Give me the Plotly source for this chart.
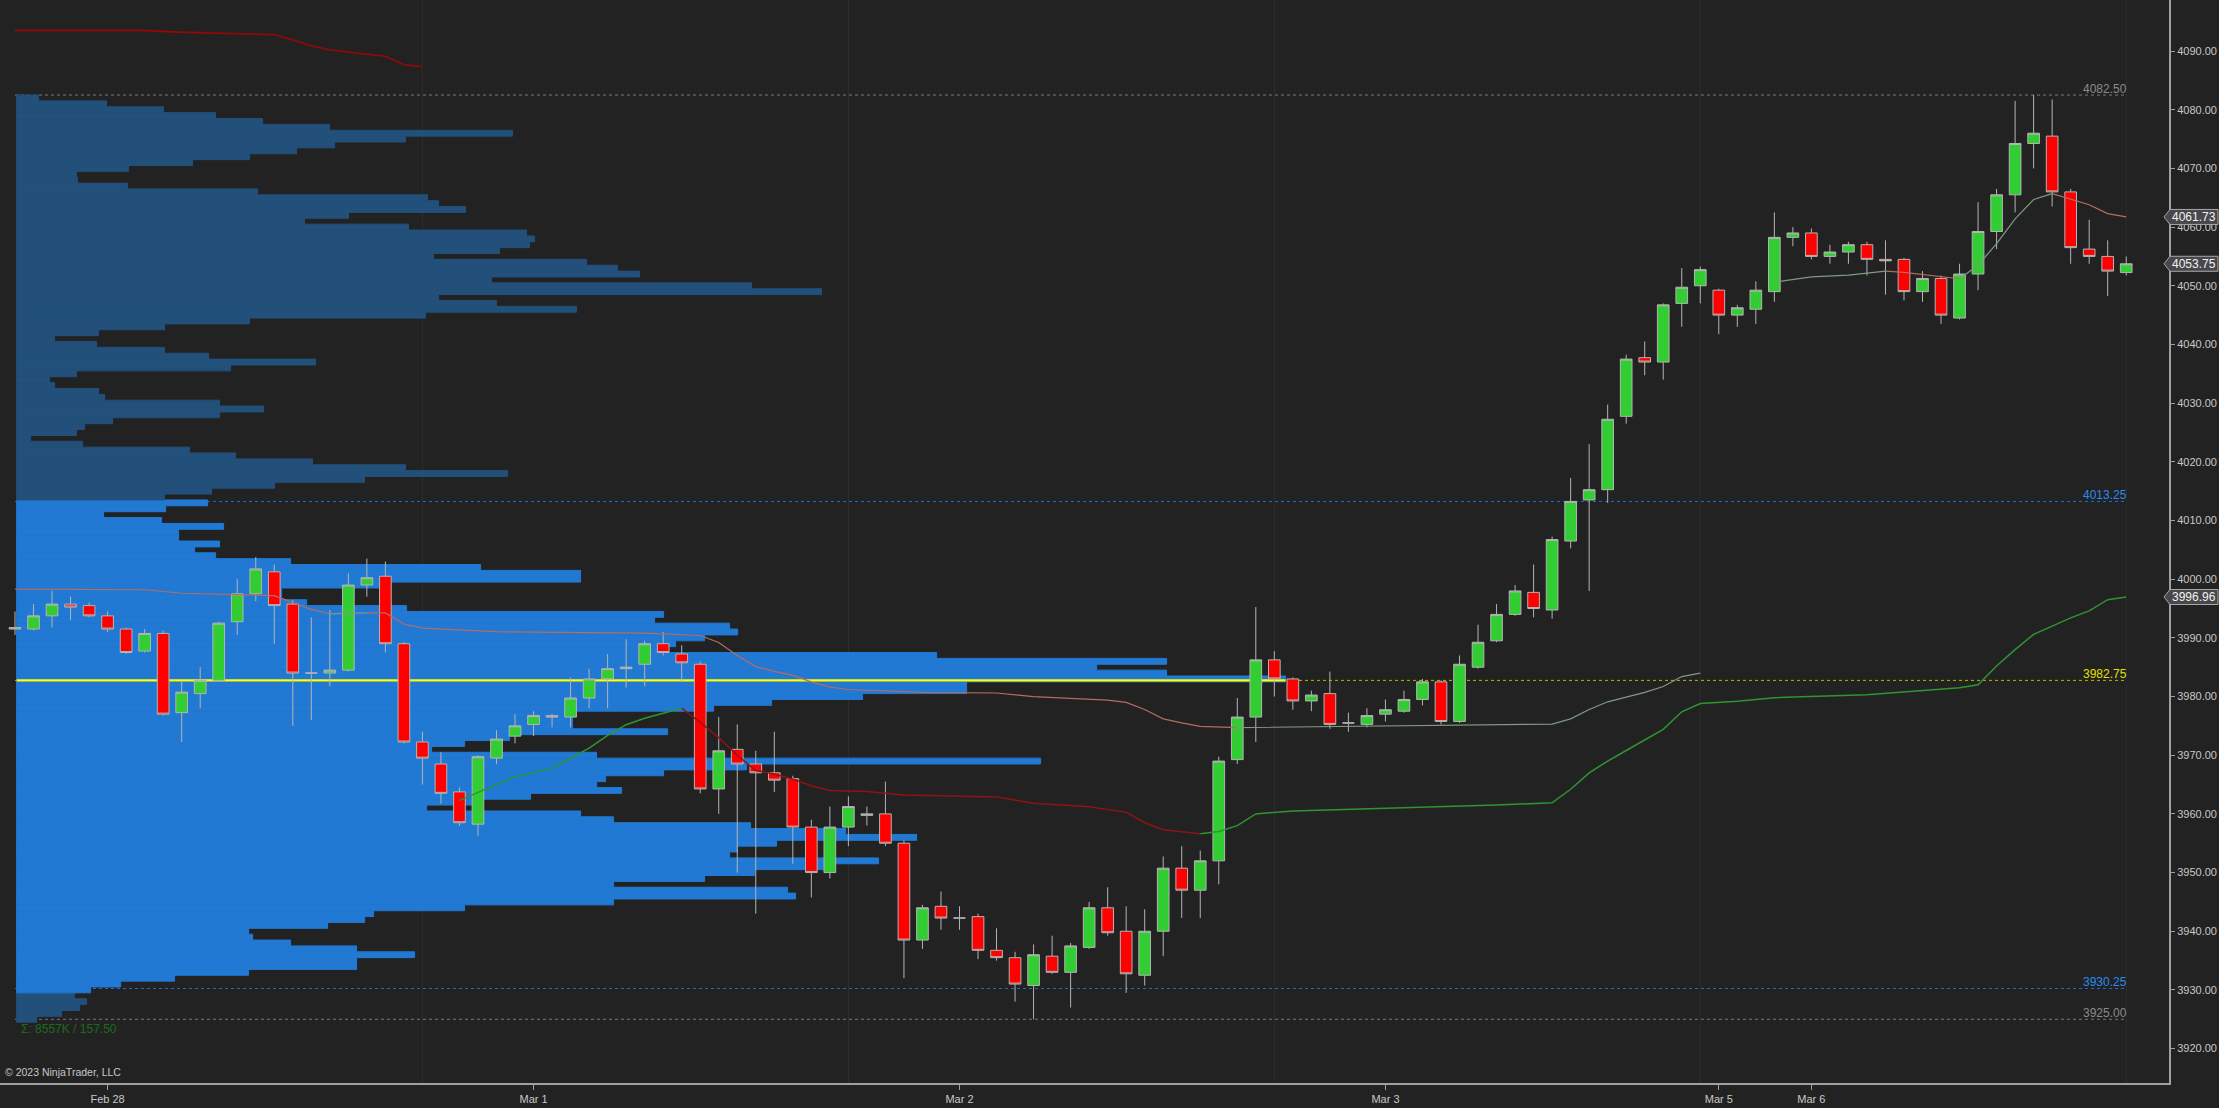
import plotly.graph_objects as go

# ---------------- candles (hourly bars, index 0 = first bar on chart) ----------------
opens = [3991.5, 3991.5, 3993.75, 3995.75, 3995.5, 3993.75, 3991.5, 3987.75, 3990.75, 3977.25,
         3980.5, 3982.75, 3992.75, 3997.5, 4001.25, 3995.75, 3984.0, 3984.0, 3984.5, 3999.0,
         4000.5, 3989.0, 3972.25, 3968.5, 3963.75, 3958.25, 3969.5, 3973.25, 3975.25, 3976.75,
         3976.5, 3979.75, 3983.0, 3984.75, 3985.5, 3989.0, 3987.25, 3985.5, 3964.25, 3971.0,
         3968.5, 3967.0, 3966.0, 3957.75, 3950.0, 3957.75, 3959.75, 3960.0, 3955.0, 3938.5,
         3944.25, 3942.25, 3942.5, 3936.75, 3935.5, 3930.75, 3935.75, 3933.0, 3937.25, 3944.0,
         3940.0, 3932.5, 3940.0, 3950.75, 3947.0, 3952.0, 3969.25, 3976.5, 3986.25, 3983.0,
         3979.25, 3980.5, 3975.5, 3975.25, 3977.0, 3977.5, 3979.5, 3982.5, 3975.75, 3985.0,
         3989.5, 3994.0, 3997.75, 3994.75, 4006.5, 4013.5, 4015.25, 4027.75, 4037.75, 4037.0,
         4047.0, 4050.0, 4049.25, 4045.0, 4046.0, 4049.0, 4058.25, 4059.0, 4055.0, 4055.75,
         4057.0, 4054.5, 4054.5, 4049.0, 4051.25, 4044.5, 4052.0, 4059.25, 4065.5, 4074.25,
         4075.5, 4066.0, 4056.25, 4055.0, 4052.25]
highs = [3994.5, 3995.75, 3998.0, 3997.0, 3996.0, 3994.5, 3991.75, 3991.5, 3991.25, 3982.5,
         3985.0, 3992.75, 4000.0, 4003.75, 4002.5, 3996.5, 3993.5, 3994.75, 4001.0, 4003.5,
         4003.0, 3989.25, 3974.0, 3970.5, 3964.5, 3970.0, 3974.25, 3977.0, 3977.5, 3977.0,
         3983.25, 3984.75, 3987.25, 3989.75, 3989.5, 3991.0, 3988.75, 3986.0, 3976.5, 3975.25,
         3970.75, 3974.0, 3966.5, 3959.0, 3961.25, 3963.0, 3961.25, 3965.5, 3955.5, 3944.5,
         3946.75, 3944.25, 3943.0, 3940.5, 3936.5, 3937.75, 3939.25, 3938.0, 3945.0, 3947.5,
         3944.25, 3943.75, 3952.75, 3954.5, 3953.75, 3969.75, 3979.75, 3995.25, 3987.75, 3983.25,
         3981.0, 3984.25, 3977.25, 3978.0, 3979.5, 3981.0, 3983.0, 3982.75, 3987.0, 3992.25,
         3995.75, 3999.0, 4002.5, 4007.25, 4017.25, 4023.0, 4029.75, 4038.25, 4040.5, 4047.0,
         4053.0, 4053.25, 4049.5, 4046.75, 4050.75, 4062.5, 4060.0, 4059.75, 4057.0, 4057.5,
         4057.5, 4057.75, 4054.75, 4052.5, 4051.75, 4053.75, 4064.25, 4066.5, 4081.5, 4082.5,
         4081.75, 4066.5, 4061.25, 4057.75, 4055.0]
lows = [3990.5, 3991.25, 3991.75, 3993.0, 3993.5, 3991.0, 3987.25, 3987.5, 3976.75, 3972.25,
        3978.0, 3982.5, 3990.5, 3996.25, 3989.0, 3975.0, 3976.0, 3981.75, 3984.25, 3997.0,
        3987.5, 3972.0, 3965.0, 3961.75, 3958.0, 3956.25, 3968.5, 3972.0, 3973.25, 3974.75,
        3974.75, 3978.0, 3978.0, 3981.5, 3981.75, 3987.0, 3982.5, 3963.5, 3960.0, 3950.0,
        3943.0, 3963.75, 3951.5, 3945.75, 3949.0, 3954.5, 3958.0, 3954.5, 3932.0, 3937.0,
        3940.25, 3940.25, 3935.25, 3935.0, 3928.0, 3925.0, 3932.75, 3927.0, 3937.0, 3939.25,
        3929.5, 3930.75, 3935.75, 3942.25, 3942.25, 3948.0, 3968.5, 3972.25, 3980.0, 3977.75,
        3977.5, 3974.5, 3974.0, 3974.75, 3975.75, 3977.25, 3978.5, 3975.25, 3975.5, 3984.75,
        3989.25, 3993.75, 3993.5, 3993.25, 4005.25, 3998.0, 4013.0, 4026.5, 4034.75, 4034.0,
        4043.0, 4047.0, 4041.75, 4043.0, 4043.5, 4047.25, 4056.75, 4054.5, 4053.75, 4053.75,
        4051.75, 4048.5, 4047.5, 4047.25, 4043.5, 4044.25, 4049.25, 4056.25, 4062.5, 4070.0,
        4063.5, 4053.75, 4053.75, 4048.25, 4051.75]
closes = [3991.75, 3993.75, 3995.75, 3995.25, 3993.75, 3991.5, 3987.5, 3990.75, 3977.0, 3980.75,
          3982.75, 3992.5, 3997.5, 4001.75, 3995.5, 3984.0, 3984.0, 3984.5, 3999.0, 4000.25,
          3989.0, 3972.25, 3969.5, 3963.5, 3958.5, 3969.75, 3972.75, 3975.0, 3976.75, 3976.5,
          3979.75, 3983.0, 3984.75, 3985.0, 3989.0, 3987.5, 3985.75, 3964.25, 3970.75, 3968.5,
          3967.0, 3965.75, 3957.75, 3950.0, 3957.75, 3961.25, 3960.0, 3955.0, 3938.5, 3944.0,
          3942.25, 3942.25, 3936.75, 3935.5, 3931.0, 3936.0, 3933.0, 3937.5, 3944.0, 3939.75,
          3932.75, 3940.0, 3950.75, 3947.0, 3952.0, 3969.0, 3976.5, 3986.25, 3983.0, 3979.25,
          3980.25, 3975.25, 3975.5, 3976.75, 3977.75, 3979.5, 3982.5, 3975.75, 3985.5, 3989.25,
          3994.0, 3998.0, 3995.0, 4006.75, 4013.25, 4015.25, 4027.25, 4037.5, 4037.0, 4046.75,
          4049.75, 4052.75, 4045.0, 4046.25, 4049.25, 4058.25, 4059.0, 4055.0, 4055.75, 4057.0,
          4054.5, 4054.25, 4049.0, 4051.25, 4045.0, 4052.0, 4059.25, 4065.5, 4074.25, 4076.0,
          4066.0, 4056.5, 4055.0, 4052.5, 4053.75]
bar_index = list(range(len(opens)))

date_tick_bars = [5, 28, 51, 74, 92, 97]
date_tick_labels = ["Feb 28", "Mar 1", "Mar 2", "Mar 3", "Mar 5", "Mar 6"]
session_break_bars = [22, 45, 68, 91, 114]

# ---------------- volume profile ----------------
profile_prices = list(range(3925, 4083))
profile_volume = [
    20, 45, 63, 70, 58, 74, 104, 158, 232, 340,          # 3925-3934
    340, 398, 340, 274, 236, 232, 311, 348, 357, 448,    # 3935-3944
    597, 779, 771, 597, 688, 738, 813, 862, 713, 721,    # 3945-3954
    760, 900, 829, 734, 597, 564, 410, 464, 514, 605,    # 3955-3964
    580, 589, 647, 730, 1024, 580, 415, 448, 493, 651,   # 3965-3974
    556, 556, 556, 697, 755, 846, 950, 950, 1269, 1150,  # 3975-3984
    1080, 1150, 920, 643, 659, 688, 721, 713, 638, 647,  # 3985-3994
    390, 290, 265, 265, 373, 564, 564, 464, 274, 199,    # 3995-4004
    178, 203, 162, 162, 207, 145, 87, 149, 191, 148,     # 4005-4014
    195, 258, 348, 491, 389, 296, 219, 173, 66, 14,      # 4015-4024
    60, 68, 96, 203, 247, 203, 88, 82, 38, 33,           # 4025-4034
    60, 214, 299, 192, 148, 80, 38, 82, 148, 233,        # 4035-4044
    409, 560, 480, 422, 805, 735, 475, 623, 601, 570,    # 4045-4054
    417, 483, 513, 518, 510, 392, 288, 332, 449, 422,    # 4055-4064
    411, 241, 111, 61, 60, 112, 176, 233, 280, 318,      # 4065-4074
    389, 496, 313, 246, 199, 147, 90, 22,                # 4075-4082
]
value_area_low = 3930.25
value_area_high = 4013.25
poc_price = 3982.75
profile_high = 4082.50
profile_low = 3925.00
profile_summary = "Σ: 8557K / 157.50"

# ---------------- indicator lines (vertices: bar index, value) ----------------
lineA_bars = [0, 7, 9, 14, 15, 16, 17, 20, 21, 22]
lineA_vals = [4093.5, 4093.5, 4093.2, 4092.8, 4091.9, 4090.9, 4090.2, 4089.1, 4087.7, 4087.35]

line1_bars = [0, 7, 9, 12, 14, 16, 17, 19, 20, 21, 22, 26, 34, 37, 38, 39, 40, 41, 42, 43, 44, 45,
              49, 53, 55, 59, 60, 61, 62, 63, 64, 66, 83, 84, 85, 86, 87, 88, 89, 90, 91]
line1_vals = [3998.3, 3998.2, 3997.6, 3997.35, 3997.2, 3994.85, 3994.1, 3994.25, 3994.25, 3992.35,
              3991.65, 3991.05, 3990.8, 3990.4, 3989.2, 3987.0, 3985.1, 3984.3, 3983.6, 3982.5,
              3981.6, 3981.2, 3980.7, 3980.6, 3980.0, 3979.4, 3979.0, 3977.8, 3976.2, 3975.5,
              3974.9, 3974.7, 3975.3, 3976.2, 3977.8, 3979.1, 3979.9, 3980.7, 3981.7, 3983.4, 3984.0]

line2_bars = [24, 27, 29, 30, 31, 32, 33, 34, 35, 36, 37, 38, 39, 40, 41, 42, 43, 44, 46, 48, 53, 55,
              58, 60, 61, 62, 64, 65, 66, 67, 69, 75, 80, 83, 84, 85, 86, 87, 88, 89, 90, 91, 93, 95,
              100, 105, 106, 107, 108, 109, 110, 111, 112, 113, 114]
line2_vals = [3962.3, 3966.35, 3967.8, 3969.5, 3971.2, 3973.4, 3975.2, 3976.3, 3977.1, 3978.0,
              3975.6, 3973.0, 3970.0, 3967.4, 3966.8, 3965.9, 3964.8, 3964.0, 3963.8, 3963.2,
              3962.9, 3961.8, 3961.2, 3960.3, 3958.5, 3957.3, 3956.6, 3957.0, 3958.0, 3960.0,
              3960.5, 3961.0, 3961.5, 3961.9, 3964.2, 3967.0, 3969.0, 3970.8, 3972.6, 3974.4,
              3977.4, 3978.8, 3979.2, 3979.8, 3980.3, 3981.5, 3982.0, 3985.2, 3988.0, 3990.6,
              3992.0, 3993.4, 3994.6, 3996.5, 3996.96]

line3_bars = [95, 97, 99, 101, 102, 105, 106, 107, 108, 109, 110, 111, 112, 113, 114]
line3_vals = [4050.6, 4051.5, 4051.8, 4052.5, 4052.3, 4051.2, 4053.5, 4057.2, 4061.4, 4064.7,
              4065.7, 4064.8, 4063.8, 4062.3, 4061.73]

# ---------------- layout constants (styling) ----------------
W, H = 2219, 1108
M_L, M_R, M_T, M_B = 0, 50, 0, 25
PLOT_W = W - M_L - M_R
PLOT_H = H - M_T - M_B
Y_RANGE = [3914.14, 4098.70]
X_RANGE = [-0.81, 116.31]
VOL_RANGE = [-16.6, PLOT_W - 16.6]
BG = "#222222"
FONT = "Liberation Sans, Arial, sans-serif"

fig = go.Figure()

# volume profile (primary x axis = volume units)
va_cols = ["#2179d3" if value_area_low - 0.5 < p <= value_area_high + 0.5 else "#22507a"
           for p in profile_prices]
fig.add_trace(go.Bar(y=profile_prices, x=profile_volume, base=0, orientation="h", width=1,
                     marker=dict(color=va_cols, line=dict(color=va_cols, width=1)),
                     xaxis="x", yaxis="y", hoverinfo="skip"))
# POC solid line across the profile
fig.add_trace(go.Scatter(x=[0, max(profile_volume)], y=[poc_price, poc_price], mode="lines",
                         line=dict(color="#ffff00", width=2.2), xaxis="x", yaxis="y",
                         hoverinfo="skip"))


def add_sloped_line(bars, vals, up_col, down_col, flat_col, width):
    segs = []
    for i in range(len(bars) - 1):
        d = vals[i + 1] - vals[i]
        col = up_col if d > 0.05 else (down_col if d < -0.05 else flat_col)
        if segs and segs[-1][0] == col:
            segs[-1][1].append(i + 1)
        else:
            segs.append([col, [i, i + 1]])
    for col, idx in segs:
        fig.add_trace(go.Scatter(x=[bars[k] for k in idx], y=[vals[k] for k in idx],
                                 mode="lines", line=dict(color=col, width=width),
                                 xaxis="x2", yaxis="y", hoverinfo="skip"))


add_sloped_line(lineA_bars, lineA_vals, "#8b0a0a", "#8b0a0a", "#8b0a0a", 1.8)
add_sloped_line(line1_bars, line1_vals, "#7f9a80", "#b56c62", "#b56c62", 1.2)
add_sloped_line(line2_bars, line2_vals, "#2f952f", "#8e1414", "#8e1414", 1.5)
add_sloped_line(line3_bars, line3_vals, "#7f9a80", "#b56c62", "#8c8c8c", 1.2)

fig.add_trace(go.Candlestick(
    x=bar_index, open=opens, high=highs, low=lows, close=closes,
    xaxis="x2", yaxis="y", whiskerwidth=0, hoverinfo="skip",
    increasing=dict(fillcolor="#32cd32", line=dict(color="#b4b4b4", width=1)),
    decreasing=dict(fillcolor="#ff0000", line=dict(color="#b4b4b4", width=1)),
))

shapes = []
for b in session_break_bars:
    shapes.append(dict(type="line", xref="x2", yref="paper", x0=b, x1=b, y0=0, y1=1,
                       line=dict(color="#2e2e2e", width=1), layer="below"))

levels = [profile_high, value_area_high, poc_price, value_area_low, profile_low]
level_line_cols = ["#7a7a7a", "#1f6fc2", "#b8b800", "#1f6fc2", "#7a7a7a"]
level_text_cols = ["#8a8a8a", "#2a8cf0", "#e0e000", "#2a8cf0", "#8a8a8a"]
annotations = []
last_bar = bar_index[-1]
for lv, lc, tc in zip(levels, level_line_cols, level_text_cols):
    shapes.append(dict(type="line", xref="x2", yref="y", x0=0, x1=last_bar, y0=lv, y1=lv,
                       line=dict(color=lc, width=1, dash="dot"), layer="below"))
    annotations.append(dict(xref="x2", yref="y", x=last_bar, y=lv, text=f"{lv:.2f}",
                            showarrow=False, xanchor="right", yanchor="bottom", yshift=-3,
                            xshift=3, font=dict(family=FONT, size=12, color=tc)))

# price flags on the right axis
flag_values = [line3_vals[-1], closes[-1], line2_vals[-1]]


def ypaper(v):
    return (v - Y_RANGE[0]) / (Y_RANGE[1] - Y_RANGE[0])


for v in flag_values:
    hh = 7.5 / PLOT_H
    yc = ypaper(v)
    xt, xb, xr = 2164 / PLOT_W, 2170 / PLOT_W, 2218 / PLOT_W
    shapes.append(dict(type="path", xref="paper", yref="paper",
                       path=f"M {xt},{yc} L {xb},{yc + hh} L {xr},{yc + hh} L {xr},{yc - hh} L {xb},{yc - hh} Z",
                       fillcolor="#48484c", line=dict(color="#a8a8a8", width=1), layer="above"))
    annotations.append(dict(xref="paper", yref="paper", x=2194 / PLOT_W, y=yc, text=f"{v:.2f}",
                            showarrow=False, xanchor="center", yanchor="middle",
                            font=dict(family=FONT, size=12, color="#f2f2f2")))

annotations.append(dict(xref="paper", yref="y", x=19 / PLOT_W, y=3923.4, text=profile_summary,
                        showarrow=False, xanchor="left", yanchor="middle",
                        font=dict(family=FONT, size=12, color="#1c6a1c")))
annotations.append(dict(xref="paper", yref="paper", x=3 / PLOT_W, y=(PLOT_H - 1072) / PLOT_H,
                        text="© 2023 NinjaTrader, LLC", showarrow=False, xanchor="left",
                        yanchor="middle", font=dict(family=FONT, size=10.5, color="#c8c8c8")))

fig.update_layout(
    width=W, height=H, margin=dict(l=M_L, r=M_R, t=M_T, b=M_B, pad=0),
    paper_bgcolor=BG, plot_bgcolor=BG, showlegend=False,
    boxgap=0.37, boxgroupgap=0,
    font=dict(family=FONT, color="#c8c8c8", size=11),
    xaxis=dict(range=VOL_RANGE, visible=False, fixedrange=True, rangeslider=dict(visible=False)),
    xaxis2=dict(overlaying="x", anchor="y", side="bottom", range=X_RANGE,
                tickmode="array", tickvals=date_tick_bars, ticktext=date_tick_labels,
                ticks="outside", ticklen=5, tickcolor="#a0a0a0", showline=True,
                linecolor="#a0a0a0", linewidth=2, showgrid=False, zeroline=False,
                tickfont=dict(family=FONT, size=11, color="#c8c8c8"),
                rangeslider=dict(visible=False)),
    yaxis=dict(side="right", anchor="x", range=Y_RANGE, dtick=10, tick0=3920,
               tickformat=".2f", ticks="outside", ticklen=4, tickcolor="#a0a0a0",
               showline=True, linecolor="#a0a0a0", linewidth=2, showgrid=False,
               zeroline=False, tickfont=dict(family=FONT, size=11, color="#c8c8c8")),
    shapes=shapes, annotations=annotations,
)

fig.write_html(
    "out.html",
    config={"displayModeBar": False},
    post_script="document.body.style.margin='0';document.body.style.padding='0';"
                "document.body.style.background='#222222';",
)
